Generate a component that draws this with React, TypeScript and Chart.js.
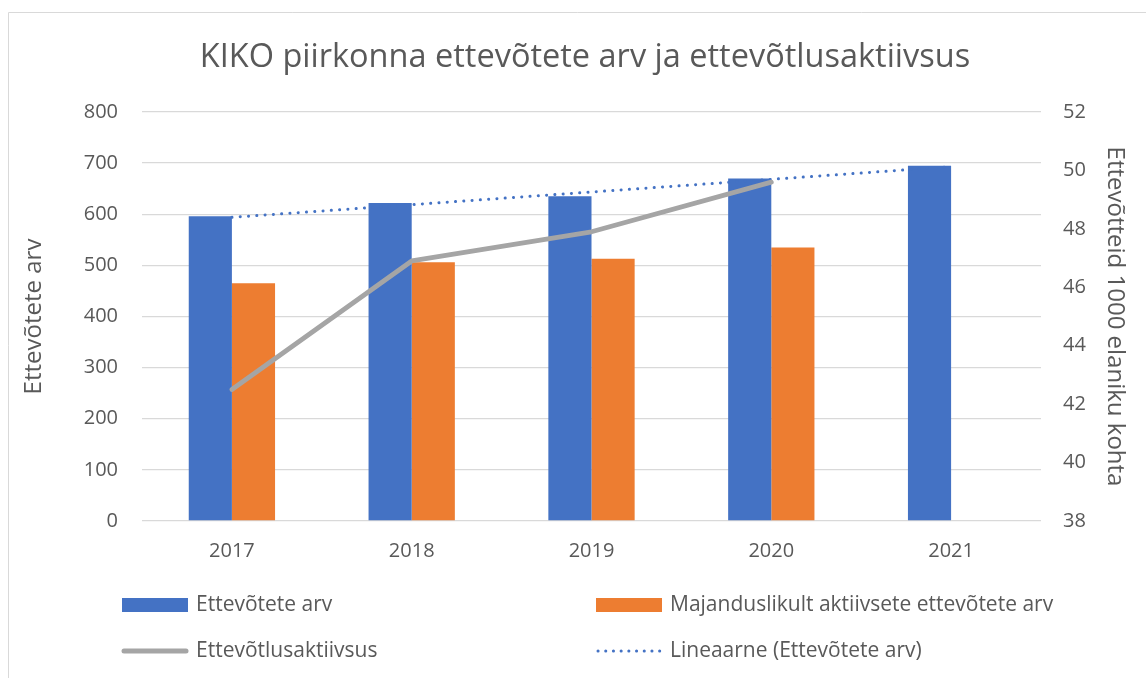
import React, { useEffect, useRef } from 'react';
import { Chart, registerables } from 'chart.js';

Chart.register(...registerables);

const TITLE = 'KIKO piirkonna ettevõtete arv ja ettevõtlusaktiivsus';
const years = ['2017', '2018', '2019', '2020', '2021'];
const companies = [596, 622, 635, 670, 695];
const activeCompanies: (number | null)[] = [465, 506, 513, 535, null];
const activity: (number | null)[] = [42.5, 46.9, 47.9, 49.6, null];
const trend: (number | null)[] = [594, null, null, null, 693];
const leftAxisTitle = 'Ettevõtete arv';
const rightAxisTitle = 'Ettevõtteid 1000 elaniku kohta';
const seriesNames = [
  'Ettevõtete arv',
  'Majanduslikult aktiivsete ettevõtete arv',
  'Ettevõtlusaktiivsus',
  'Lineaarne (Ettevõtete arv)',
];

const FONT = "'Open Sans', sans-serif";
const TEXT = '#595959';
const GRID = '#D9D9D9';
const BLUE = '#4472C4';
const ORANGE = '#ED7D31';
const GRAY = '#A5A5A5';

const decor = {
  id: 'decor',
  afterDraw(chart: any) {
    const ctx = chart.ctx as CanvasRenderingContext2D;
    ctx.save();
    // frame
    ctx.strokeStyle = GRID;
    ctx.lineWidth = 1;
    ctx.beginPath();
    ctx.moveTo(8.5, 678);
    ctx.lineTo(8.5, 12.5);
    ctx.lineTo(1146, 12.5);
    ctx.stroke();
    // title
    ctx.fillStyle = TEXT;
    ctx.font = `32.5px ${FONT}`;
    ctx.textAlign = 'center';
    ctx.textBaseline = 'middle';
    ctx.fillText(TITLE, 585, 58);
    // legend
    const ds = chart.data.datasets;
    const items = [
      { i: 0, kind: 'box', x: 122, y: 605 },
      { i: 1, kind: 'box', x: 596, y: 605 },
      { i: 2, kind: 'line', x: 122, y: 651 },
      { i: 3, kind: 'dots', x: 596, y: 651 },
    ];
    ctx.font = `21px ${FONT}`;
    ctx.textAlign = 'left';
    for (const it of items) {
      const d = ds[it.i];
      if (it.kind === 'box') {
        ctx.fillStyle = d.backgroundColor;
        ctx.fillRect(it.x, it.y - 7, 66, 14);
      } else if (it.kind === 'line') {
        ctx.strokeStyle = d.borderColor;
        ctx.lineWidth = 5;
        ctx.lineCap = 'round';
        ctx.setLineDash([]);
        ctx.beginPath();
        ctx.moveTo(it.x + 2, it.y);
        ctx.lineTo(it.x + 64, it.y);
        ctx.stroke();
      } else {
        ctx.strokeStyle = d.borderColor;
        ctx.lineWidth = 3;
        ctx.lineCap = 'round';
        ctx.setLineDash([0.1, 7.6]);
        ctx.beginPath();
        ctx.moveTo(it.x + 2, it.y);
        ctx.lineTo(it.x + 66, it.y);
        ctx.stroke();
        ctx.setLineDash([]);
      }
      ctx.fillStyle = TEXT;
      ctx.fillText(d.label, it.x + 74, it.y);
    }
    ctx.restore();
  },
};

export default function App() {
  const ref = useRef<HTMLCanvasElement>(null);
  useEffect(() => {
    if (!ref.current) return;
    const chart = new Chart(ref.current, {
      type: 'bar',
      data: {
        labels: years,
        datasets: [
          {
            type: 'bar',
            label: seriesNames[0],
            data: companies,
            backgroundColor: BLUE,
            borderWidth: 0,
            yAxisID: 'y',
            order: 3,
            categoryPercentage: 0.48,
            barPercentage: 1.0,
          },
          {
            type: 'bar',
            label: seriesNames[1],
            data: activeCompanies,
            backgroundColor: ORANGE,
            borderWidth: 0,
            yAxisID: 'y',
            order: 3,
            categoryPercentage: 0.48,
            barPercentage: 1.0,
          },
          {
            type: 'line',
            label: seriesNames[2],
            data: activity,
            borderColor: GRAY,
            backgroundColor: GRAY,
            borderWidth: 4.8,
            borderCapStyle: 'round',
            borderJoinStyle: 'round',
            pointRadius: 0,
            tension: 0,
            yAxisID: 'y1',
            order: 1,
          },
          {
            type: 'line',
            label: seriesNames[3],
            data: trend,
            borderColor: BLUE,
            backgroundColor: BLUE,
            borderWidth: 3,
            borderDash: [0.1, 8.2],
            borderCapStyle: 'round',
            pointRadius: 0,
            spanGaps: true,
            yAxisID: 'y',
            order: 2,
          },
        ],
      } as any,
      options: {
        responsive: false,
        animation: false,
        devicePixelRatio: 1,
        layout: { padding: { top: 112, bottom: 117, left: 0, right: 0 } },
        plugins: {
          legend: { display: false },
          title: { display: false },
          tooltip: { enabled: false },
        },
        scales: {
          x: {
            grid: { display: false, drawTicks: false },
            border: { display: false },
            ticks: { color: TEXT, font: { family: FONT, size: 20 }, padding: 18 },
            afterFit: (s: any) => { s.height = 40; },
          },
          y: {
            position: 'left',
            min: 0,
            max: 800,
            ticks: { stepSize: 100, color: TEXT, font: { family: FONT, size: 20 }, padding: 24 },
            grid: { color: GRID, lineWidth: 1.3, drawTicks: false },
            border: { display: false },
            title: {
              display: true,
              text: leftAxisTitle,
              color: TEXT,
              font: { family: FONT, size: 24 },
              padding: { top: 20, bottom: 0 },
            },
            afterFit: (s: any) => { s.width = 142; },
          },
          y1: {
            position: 'right',
            min: 38,
            max: 52,
            ticks: { stepSize: 2, color: TEXT, font: { family: FONT, size: 20 }, padding: 22 },
            grid: { drawOnChartArea: false, drawTicks: false },
            border: { display: false },
            title: {
              display: true,
              text: rightAxisTitle,
              color: TEXT,
              font: { family: FONT, size: 24 },
              padding: { top: 17, bottom: 0 },
            },
            afterFit: (s: any) => { s.width = 105; },
          },
        },
      } as any,
      plugins: [decor],
    });
    return () => chart.destroy();
  }, []);
  return (
    <div style={{ position: 'fixed', left: 0, top: 0, width: 1146, height: 678, background: '#fff' }}>
      <canvas ref={ref} width={1146} height={678} style={{ display: 'block' }} />
    </div>
  );
}
